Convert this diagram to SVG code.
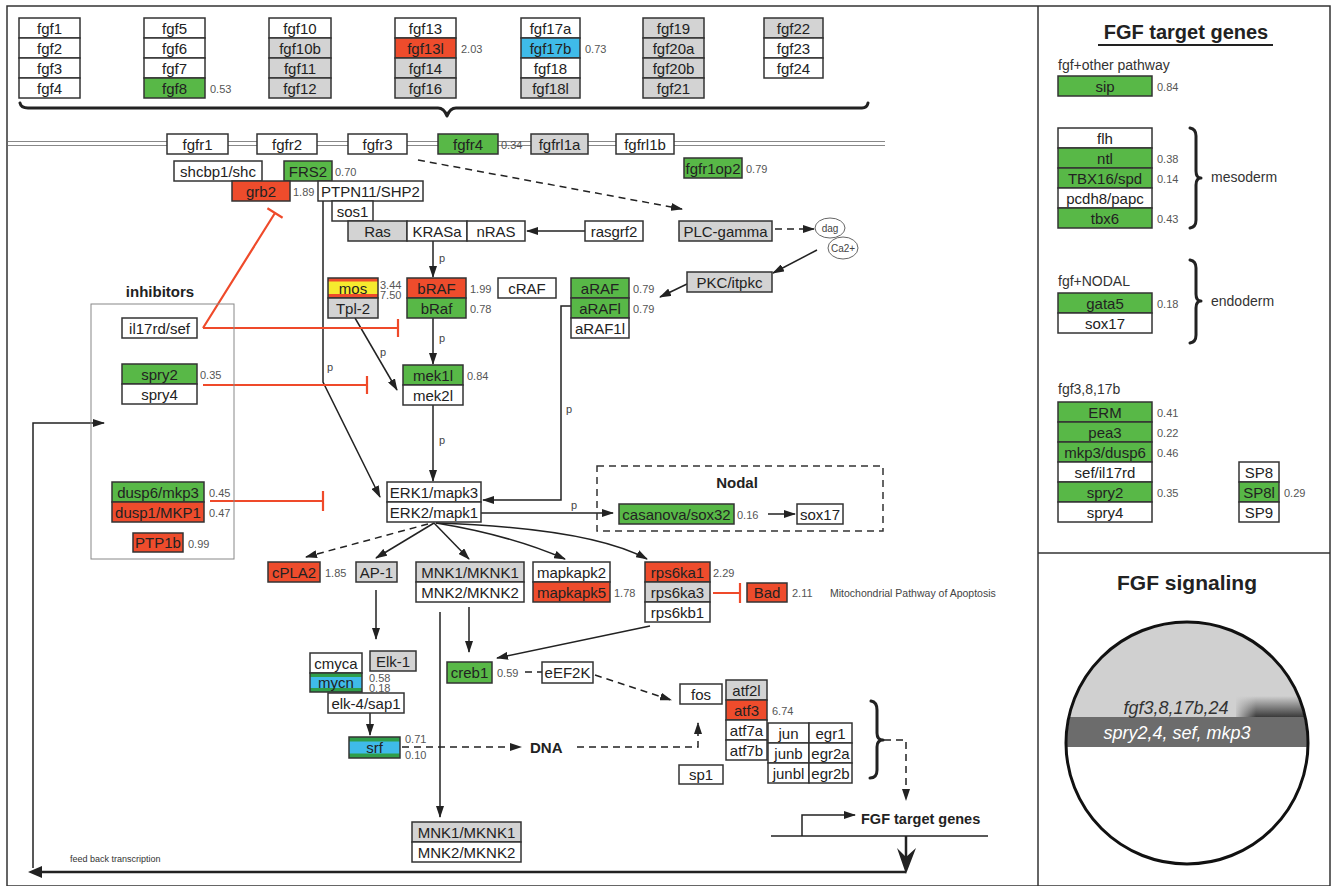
<svg xmlns="http://www.w3.org/2000/svg" width="1334" height="886" viewBox="0 0 1334 886">
<defs>
<style>
text{font-family:"Liberation Sans",Arial,sans-serif}
.bx{stroke:#333;stroke-width:1.5}
.nf{fill:none}
.w{fill:#fff}.g{fill:#d3d3d3}.gr{fill:#58b847}.r{fill:#ee4c2c}.c{fill:#3fbbe9}.y{fill:#f6ea2e}
.t{font-size:15px;fill:#222;text-anchor:middle}
.n{font-size:11px;fill:#555}
.p{font-size:11px;fill:#444}
.ln{fill:none;stroke:#222;stroke-width:1.5}
.ds{stroke-dasharray:7 5}
.inh{fill:none;stroke:#ef4a2a;stroke-width:2.2}
.br{fill:none;stroke:#222;stroke-width:3;stroke-linecap:round;stroke-linejoin:round}
.lbl{font-weight:bold;fill:#222}
.sm{font-size:14px;fill:#333}
</style>
<marker id="ah" viewBox="0 0 12 8" refX="11" refY="4" markerWidth="12" markerHeight="8" markerUnits="userSpaceOnUse" orient="auto"><path d="M0,0 L12,4 L0,8 z" fill="#222"/></marker>
<linearGradient id="gp" x1="0" y1="0" x2="0" y2="1"><stop offset="0" stop-color="#d0d0d0"/><stop offset="1" stop-color="#3a3a3a"/></linearGradient>
<linearGradient id="gf" x1="0" y1="0" x2="1" y2="0"><stop offset="0" stop-color="#d0d0d0" stop-opacity="1"/><stop offset="1" stop-color="#d0d0d0" stop-opacity="0"/></linearGradient>
<clipPath id="cc"><circle cx="1187" cy="743" r="120"/></clipPath>
</defs>

<rect x="0" y="0" width="1334" height="886" fill="#fff"/>
<g id="frame" fill="none" stroke="#333" stroke-width="1.5">
<rect x="7" y="6" width="1323" height="880"/>
<line x1="1038" y1="6" x2="1038" y2="886"/>
<line x1="1038" y1="553" x2="1330" y2="553"/>
</g>

<path class="br" d="M20,103 Q21,108 28,108 L438,108 Q444,108 447,116 Q450,108 456,108 L862,108 Q867,108 868,103"/>

<g id="membrane" stroke="#888" stroke-width="1">
<line x1="8" y1="141.5" x2="885" y2="141.5"/>
<line x1="8" y1="145.5" x2="885" y2="145.5"/>
</g>

<g id="connectors">
<path class="ln ds" d="M418,160 L682,209" marker-end="url(#ah)"/>
<path class="ln" d="M585,231 L527,231" marker-end="url(#ah)"/>
<path class="ln ds" d="M775,229 L814,229" marker-end="url(#ah)"/>
<path class="ln" d="M817,250 L773,273" marker-end="url(#ah)"/>
<path class="ln" d="M687,284 L660,297" marker-end="url(#ah)"/>
<path class="ln" d="M433,241 L433,277" marker-end="url(#ah)"/>
<path class="ln" d="M433,318 L433,364" marker-end="url(#ah)"/>
<path class="ln" d="M433,405 L433,481" marker-end="url(#ah)"/>
<path class="ln" d="M355,318 L397,390" marker-end="url(#ah)"/>
<path class="ln" d="M323,201 L323,382 L380,497" marker-end="url(#ah)"/>
<path class="ln" d="M571,306 L561,306 L561,500 L483,500" marker-end="url(#ah)"/>
<path class="ln" d="M481,513 L613,513" marker-end="url(#ah)"/>
<path class="ln" d="M768,514 L795,514" marker-end="url(#ah)"/>
<path class="ln ds" d="M428,524 L306,557" marker-end="url(#ah)"/>
<path class="ln" d="M434,523 L376,558" marker-end="url(#ah)"/>
<path class="ln" d="M434,523 L469,559" marker-end="url(#ah)"/>
<path class="ln" d="M436,523 Q510,535 565,559" marker-end="url(#ah)"/>
<path class="ln" d="M436,523 Q590,528 647,559" marker-end="url(#ah)"/>
<path class="ln" d="M376,590 L376,639" marker-end="url(#ah)"/>
<path class="ln" d="M469,607 L469,652" marker-end="url(#ah)"/>
<path class="ln" d="M440,612 L440,817" marker-end="url(#ah)"/>
<path class="ln" d="M650,626 L497,658" marker-end="url(#ah)"/>
<path class="ln ds" d="M525,672 L542,672"/>
<path class="ln ds" d="M595,675 L671,700" marker-end="url(#ah)"/>
<path class="ln" d="M370,713 L370,735" marker-end="url(#ah)"/>
<path class="ln ds" d="M402,747 L521,747" marker-end="url(#ah)"/>
<path class="ln ds" d="M577,747 L698,747 L698,723" marker-end="url(#ah)"/>
<path class="ln ds" d="M884,740 L906,740 L906,800" marker-end="url(#ah)"/>
<path class="ln" d="M802,836 L802,815 L855,815" marker-end="url(#ah)"/>
<path fill="none" stroke="#222" stroke-width="1.5" d="M771,836 L988,836"/>
<path fill="none" stroke="#222" stroke-width="2.5" d="M906,836 L906,862"/>
<polygon points="897,848 906,874 916,848 906,857" fill="#222"/>
<path fill="none" stroke="#222" stroke-width="2.5" d="M906,872 L40,872"/>
<polygon points="28,872 42,866 42,878" fill="#222"/>
<path class="ln" d="M33,868 L33,423 L104,423" marker-end="url(#ah)"/>
<path class="inh" d="M203,328 L398,328 M398,319 L398,337"/>
<path class="inh" d="M203,328 L275,213 M267.4,208.2 L282.6,217.8"/>
<path class="inh" d="M203,385 L367,385 M367,376 L367,394"/>
<path class="inh" d="M210,501 L323,501 M323,491 L323,511"/>
<path class="inh" d="M713,593 L740,593 M740,583 L740,603"/>
<path class="br" d="M871,701 Q877,702 877,710 L877,733 Q877,740 883,740 Q877,740 877,747 L877,770 Q877,778 870,778"/>
<path class="br" d="M1190,128 Q1196,129 1196,136 L1196,171 Q1196,178 1201,178 Q1196,178 1196,185 L1196,220 Q1196,227 1190,228"/>
<path class="br" d="M1190,260 Q1196,261 1196,268 L1196,294 Q1196,301 1201,301 Q1196,301 1196,308 L1196,335 Q1196,342 1190,343"/>
</g>

<g id="labels-p">
<text class="p" x="439" y="262">p</text>
<text class="p" x="439" y="342">p</text>
<text class="p" x="439" y="444">p</text>
<text class="p" x="380" y="356">p</text>
<text class="p" x="327" y="371">p</text>
<text class="p" x="566" y="413">p</text>
<text class="p" x="571" y="509">p</text>
</g>

<g id="fgf-col1">
<rect class="bx w" x="19" y="18" width="61" height="20"/><text class="t" x="49.5" y="33.5">fgf1</text>
<rect class="bx w" x="19" y="38" width="61" height="20"/><text class="t" x="49.5" y="53.5">fgf2</text>
<rect class="bx w" x="19" y="58" width="61" height="20"/><text class="t" x="49.5" y="73.5">fgf3</text>
<rect class="bx w" x="19" y="78" width="61" height="20"/><text class="t" x="49.5" y="93.5">fgf4</text>
</g>
<g id="fgf-col2">
<rect class="bx w" x="144" y="18" width="61" height="20"/><text class="t" x="174.5" y="33.5">fgf5</text>
<rect class="bx w" x="144" y="38" width="61" height="20"/><text class="t" x="174.5" y="53.5">fgf6</text>
<rect class="bx w" x="144" y="58" width="61" height="20"/><text class="t" x="174.5" y="73.5">fgf7</text>
<rect class="bx gr" x="144" y="78" width="61" height="20"/><text class="t" x="174.5" y="93.5">fgf8</text>
<text class="n" x="210" y="93">0.53</text>
</g>
<g id="fgf-col3">
<rect class="bx w" x="269" y="18" width="62" height="20"/><text class="t" x="300" y="33.5">fgf10</text>
<rect class="bx g" x="269" y="38" width="62" height="20"/><text class="t" x="300" y="53.5">fgf10b</text>
<rect class="bx g" x="269" y="58" width="62" height="20"/><text class="t" x="300" y="73.5">fgf11</text>
<rect class="bx g" x="269" y="78" width="62" height="20"/><text class="t" x="300" y="93.5">fgf12</text>
</g>
<g id="fgf-col4">
<rect class="bx w" x="395" y="18" width="61" height="20"/><text class="t" x="425.5" y="33.5">fgf13</text>
<rect class="bx r" x="395" y="38" width="61" height="20"/><text class="t" x="425.5" y="53.5">fgf13l</text>
<rect class="bx g" x="395" y="58" width="61" height="20"/><text class="t" x="425.5" y="73.5">fgf14</text>
<rect class="bx g" x="395" y="78" width="61" height="20"/><text class="t" x="425.5" y="93.5">fgf16</text>
<text class="n" x="461" y="53">2.03</text>
</g>
<g id="fgf-col5">
<rect class="bx w" x="521" y="18" width="59" height="20"/><text class="t" x="550.5" y="33.5">fgf17a</text>
<rect class="bx c" x="521" y="38" width="59" height="20"/><text class="t" x="550.5" y="53.5">fgf17b</text>
<rect class="bx w" x="521" y="58" width="59" height="20"/><text class="t" x="550.5" y="73.5">fgf18</text>
<rect class="bx g" x="521" y="78" width="59" height="20"/><text class="t" x="550.5" y="93.5">fgf18l</text>
<text class="n" x="585" y="53">0.73</text>
</g>
<g id="fgf-col6">
<rect class="bx g" x="643" y="18" width="61" height="20"/><text class="t" x="673.5" y="33.5">fgf19</text>
<rect class="bx g" x="643" y="38" width="61" height="20"/><text class="t" x="673.5" y="53.5">fgf20a</text>
<rect class="bx g" x="643" y="58" width="61" height="20"/><text class="t" x="673.5" y="73.5">fgf20b</text>
<rect class="bx g" x="643" y="78" width="61" height="20"/><text class="t" x="673.5" y="93.5">fgf21</text>
</g>
<g id="fgf-col7">
<rect class="bx g" x="764" y="18" width="59" height="20"/><text class="t" x="793.5" y="33.5">fgf22</text>
<rect class="bx w" x="764" y="38" width="59" height="20"/><text class="t" x="793.5" y="53.5">fgf23</text>
<rect class="bx w" x="764" y="58" width="59" height="20"/><text class="t" x="793.5" y="73.5">fgf24</text>
</g>

<g id="fgfr1"><rect class="bx w" x="167" y="134" width="61" height="20"/><text class="t" x="197.5" y="149.5">fgfr1</text></g>
<g id="fgfr2"><rect class="bx w" x="257" y="134" width="60" height="20"/><text class="t" x="287" y="149.5">fgfr2</text></g>
<g id="fgfr3"><rect class="bx w" x="348" y="134" width="59" height="20"/><text class="t" x="377.5" y="149.5">fgfr3</text></g>
<g id="fgfr4"><rect class="bx gr" x="438" y="134" width="60" height="20"/><text class="t" x="468" y="149.5">fgfr4</text><text class="n" x="501" y="149">0.34</text></g>
<g id="fgfrl1a"><rect class="bx g" x="531" y="134" width="57" height="20"/><text class="t" x="559.5" y="149.5">fgfrl1a</text></g>
<g id="fgfrl1b"><rect class="bx w" x="616" y="134" width="58" height="20"/><text class="t" x="645" y="149.5">fgfrl1b</text></g>
<g id="fgfr1op2"><rect class="bx gr" x="684" y="158" width="58" height="20"/><text class="t" x="713" y="173.5">fgfr1op2</text><text class="n" x="746" y="173">0.79</text></g>

<g id="shc"><rect class="bx w" x="174" y="161" width="88" height="20"/><text class="t" x="218" y="176.5">shcbp1/shc</text></g>
<g id="frs2"><rect class="bx gr" x="284" y="161" width="48" height="20"/><text class="t" x="308" y="176.5">FRS2</text><text class="n" x="335" y="176">0.70</text></g>
<g id="grb2"><rect class="bx r" x="232" y="181" width="58" height="20"/><text class="t" x="261" y="196.5">grb2</text><text class="n" x="293" y="196">1.89</text></g>
<g id="ptpn11"><rect class="bx w" x="318" y="181" width="105" height="20"/><text class="t" x="370.5" y="196.5">PTPN11/SHP2</text></g>
<g id="sos1"><rect class="bx w" x="332" y="201" width="41" height="20"/><text class="t" x="352.5" y="216.5">sos1</text></g>
<g id="ras">
<rect class="bx g" x="348" y="221" width="59" height="20"/><text class="t" x="377.5" y="236.5">Ras</text>
<rect class="bx w" x="407" y="221" width="60" height="20"/><text class="t" x="437" y="236.5">KRASa</text>
<rect class="bx w" x="467" y="221" width="58" height="20"/><text class="t" x="496" y="236.5">nRAS</text>
</g>
<g id="rasgrf2"><rect class="bx w" x="585" y="221" width="58" height="20"/><text class="t" x="614" y="236.5">rasgrf2</text></g>
<g id="plcgamma"><rect class="bx g" x="679" y="221" width="93" height="20"/><text class="t" x="725.5" y="236.5">PLC-gamma</text></g>
<g id="dag"><ellipse cx="830" cy="228" rx="15" ry="10" fill="#fff" stroke="#666" stroke-width="1"/><text x="830" y="232" font-size="10" fill="#444" text-anchor="middle">dag</text></g>
<g id="ca2"><ellipse cx="843" cy="248" rx="15" ry="11" fill="#fff" stroke="#666" stroke-width="1"/><text x="843" y="252" font-size="10" fill="#444" text-anchor="middle">Ca2+</text></g>
<g id="pkc"><rect class="bx g" x="687" y="272" width="85" height="20"/><text class="t" x="729.5" y="287.5">PKC/itpkc</text></g>

<g id="mos">
<rect x="328" y="278" width="50" height="20" fill="#ee4c2c"/>
<rect x="328" y="281.5" width="50" height="12.5" fill="#f6ea2e"/>
<rect class="bx nf" x="328" y="278" width="50" height="20"/>
<text class="t" x="353" y="293.5">mos</text>
<rect class="bx g" x="328" y="298" width="50" height="20"/><text class="t" x="353" y="313.5">Tpl-2</text>
<text class="n" x="380" y="289">3.44</text><text class="n" x="380" y="299">7.50</text>
</g>
<g id="braf">
<rect class="bx r" x="407" y="278" width="59" height="20"/><text class="t" x="436.5" y="293.5">bRAF</text>
<rect class="bx gr" x="407" y="298" width="59" height="20"/><text class="t" x="436.5" y="313.5">bRaf</text>
<text class="n" x="470" y="293">1.99</text><text class="n" x="470" y="313">0.78</text>
</g>
<g id="craf"><rect class="bx w" x="498" y="278" width="58" height="20"/><text class="t" x="527" y="293.5">cRAF</text></g>
<g id="araf">
<rect class="bx gr" x="571" y="278" width="58" height="20"/><text class="t" x="600" y="293.5">aRAF</text>
<rect class="bx gr" x="571" y="298" width="58" height="20"/><text class="t" x="600" y="313.5">aRAFl</text>
<rect class="bx w" x="571" y="318" width="58" height="20"/><text class="t" x="600" y="333.5">aRAF1l</text>
<text class="n" x="633" y="293">0.79</text><text class="n" x="633" y="313">0.79</text>
</g>
<g id="mek">
<rect class="bx gr" x="403" y="365" width="60" height="20"/><text class="t" x="433" y="380.5">mek1l</text>
<rect class="bx w" x="403" y="385" width="60" height="20"/><text class="t" x="433" y="400.5">mek2l</text>
<text class="n" x="467" y="380">0.84</text>
</g>
<g id="erk">
<rect class="bx w" x="387" y="482" width="94" height="20"/><text class="t" x="434" y="497.5">ERK1/mapk3</text>
<rect class="bx w" x="387" y="502" width="94" height="20"/><text class="t" x="434" y="517.5">ERK2/mapk1</text>
</g>

<g id="inhibitors">
<rect x="91" y="304" width="143" height="255" fill="none" stroke="#888" stroke-width="1"/>
<text class="lbl" x="160" y="297" font-size="15" text-anchor="middle">inhibitors</text>
</g>
<g id="il17rd"><rect class="bx w" x="122" y="318" width="75" height="20"/><text class="t" x="159.5" y="333.5">il17rd/sef</text></g>
<g id="spry">
<rect class="bx gr" x="122" y="364" width="75" height="20"/><text class="t" x="159.5" y="379.5">spry2</text>
<rect class="bx w" x="122" y="384" width="75" height="20"/><text class="t" x="159.5" y="399.5">spry4</text>
<text class="n" x="200" y="379">0.35</text>
</g>
<g id="dusp">
<rect class="bx gr" x="112" y="482" width="92" height="20"/><text class="t" x="158" y="497.5">dusp6/mkp3</text>
<rect class="bx r" x="112" y="502" width="92" height="20"/><text class="t" x="158" y="517.5">dusp1/MKP1</text>
<text class="n" x="209" y="497">0.45</text><text class="n" x="209" y="517">0.47</text>
</g>
<g id="ptp1b"><rect class="bx r" x="133" y="533" width="50" height="19"/><text class="t" x="158" y="548">PTP1b</text><text class="n" x="188" y="548">0.99</text></g>

<g id="nodal">
<rect x="597" y="466" width="286" height="65" fill="none" stroke="#333" stroke-width="1.5" stroke-dasharray="7 5"/>
<text class="lbl" x="737" y="488" font-size="15" text-anchor="middle">Nodal</text>
</g>
<g id="casanova"><rect class="bx gr" x="619" y="504" width="115" height="20"/><text class="t" x="676.5" y="519.5">casanova/sox32</text><text class="n" x="737" y="519">0.16</text></g>
<g id="sox17n"><rect class="bx w" x="797" y="504" width="46" height="20"/><text class="t" x="820" y="519.5">sox17</text></g>

<g id="cpla2"><rect class="bx r" x="268" y="562" width="52" height="20"/><text class="t" x="294" y="577.5">cPLA2</text><text class="n" x="325" y="577">1.85</text></g>
<g id="ap1"><rect class="bx g" x="356" y="562" width="41" height="20"/><text class="t" x="376.5" y="577.5">AP-1</text></g>
<g id="mnk">
<rect class="bx g" x="416" y="562" width="108" height="20"/><text class="t" x="470" y="577.5">MNK1/MKNK1</text>
<rect class="bx w" x="416" y="582" width="108" height="20"/><text class="t" x="470" y="597.5">MNK2/MKNK2</text>
</g>
<g id="mapkapk">
<rect class="bx w" x="533" y="562" width="77" height="20"/><text class="t" x="571.5" y="577.5">mapkapk2</text>
<rect class="bx r" x="533" y="582" width="77" height="20"/><text class="t" x="571.5" y="597.5">mapkapk5</text>
<text class="n" x="614" y="597">1.78</text>
</g>
<g id="rps6k">
<rect class="bx r" x="645" y="562" width="65" height="20"/><text class="t" x="677.5" y="577.5">rps6ka1</text>
<rect class="bx g" x="645" y="582" width="65" height="20"/><text class="t" x="677.5" y="597.5">rps6ka3</text>
<rect class="bx w" x="645" y="602" width="65" height="20"/><text class="t" x="677.5" y="617.5">rps6kb1</text>
<text class="n" x="713" y="577">2.29</text>
</g>
<g id="bad"><rect class="bx r" x="747" y="583" width="40" height="19"/><text class="t" x="767" y="598">Bad</text><text class="n" x="792" y="597">2.11</text></g>
<text x="830" y="597" font-size="10.5" fill="#444">Mitochondrial Pathway of Apoptosis</text>

<g id="myc">
<rect class="bx w" x="310" y="653" width="52" height="20"/><text class="t" x="336" y="668.5">cmyca</text>
<rect x="310" y="673" width="52" height="19" fill="#2f9e4a"/>
<rect x="310" y="677" width="52" height="11" fill="#3fbbe9"/>
<rect class="bx nf" x="310" y="673" width="52" height="19"/>
<text class="t" x="336" y="688">mycn</text>
<text class="n" x="369" y="682" font-size="10.5">0.58</text><text class="n" x="369" y="692" font-size="10.5">0.18</text>
</g>
<g id="elk1"><rect class="bx g" x="370" y="651" width="46" height="20"/><text class="t" x="393" y="666.5">Elk-1</text></g>
<g id="elk4"><rect class="bx w" x="328" y="693" width="76" height="20"/><text class="t" x="366" y="708.5">elk-4/sap1</text></g>
<g id="srf">
<rect x="349" y="737" width="51" height="21" fill="#2f9e4a"/>
<rect x="349" y="741.5" width="51" height="12" fill="#3fbbe9"/>
<rect class="bx nf" x="349" y="737" width="51" height="21"/>
<text class="t" x="374.5" y="753">srf</text>
<text class="n" x="405" y="743" font-size="10.5">0.71</text><text class="n" x="405" y="759" font-size="10.5">0.10</text>
</g>
<text class="lbl" x="530" y="753" font-size="15">DNA</text>
<g id="creb1"><rect class="bx gr" x="447" y="662" width="45" height="21"/><text class="t" x="469.5" y="677.5">creb1</text><text class="n" x="497" y="677">0.59</text></g>
<g id="eef2k"><rect class="bx w" x="542" y="662" width="51" height="21"/><text class="t" x="567.5" y="677.5">eEF2K</text></g>
<g id="fos"><rect class="bx w" x="680" y="684" width="42" height="20"/><text class="t" x="701" y="699.5">fos</text></g>
<g id="atf">
<rect class="bx g" x="726" y="680" width="41" height="20"/><text class="t" x="746.5" y="695.5">atf2l</text>
<rect class="bx r" x="726" y="700" width="41" height="20"/><text class="t" x="746.5" y="715.5">atf3</text>
<rect class="bx w" x="726" y="720" width="41" height="20"/><text class="t" x="746.5" y="735.5">atf7a</text>
<rect class="bx w" x="726" y="740" width="41" height="20"/><text class="t" x="746.5" y="755.5">atf7b</text>
<text class="n" x="772" y="715">6.74</text>
</g>
<g id="jun">
<rect class="bx w" x="768" y="723" width="41" height="20"/><text class="t" x="788.5" y="738.5">jun</text>
<rect class="bx w" x="768" y="743" width="41" height="20"/><text class="t" x="788.5" y="758.5">junb</text>
<rect class="bx w" x="768" y="763" width="41" height="20"/><text class="t" x="788.5" y="778.5">junbl</text>
</g>
<g id="egr">
<rect class="bx w" x="809" y="723" width="43" height="20"/><text class="t" x="830.5" y="738.5">egr1</text>
<rect class="bx w" x="809" y="743" width="43" height="20"/><text class="t" x="830.5" y="758.5">egr2a</text>
<rect class="bx w" x="809" y="763" width="43" height="20"/><text class="t" x="830.5" y="778.5">egr2b</text>
</g>
<g id="sp1"><rect class="bx w" x="679" y="765" width="44" height="19"/><text class="t" x="701" y="780">sp1</text></g>
<text class="lbl" x="861" y="824" font-size="14.5">FGF target genes</text>
<g id="mnk-bottom">
<rect class="bx g" x="412" y="822" width="109" height="20"/><text class="t" x="466.5" y="837.5">MNK1/MKNK1</text>
<rect class="bx w" x="412" y="842" width="109" height="20"/><text class="t" x="466.5" y="857.5">MNK2/MKNK2</text>
</g>
<text x="70" y="862" font-size="9" fill="#333">feed back transcription</text>

<g id="target-panel">
<text class="lbl" x="1186" y="39" font-size="20" text-anchor="middle">FGF target genes</text>
<line x1="1098" y1="45" x2="1273" y2="45" stroke="#222" stroke-width="2"/>
<text class="sm" x="1058" y="70">fgf+other pathway</text>
<text class="sm" x="1058" y="286">fgf+NODAL</text>
<text class="sm" x="1058" y="394">fgf3,8,17b</text>
<text class="sm" x="1211" y="182">mesoderm</text>
<text class="sm" x="1211" y="306">endoderm</text>
</g>
<g id="sip"><rect class="bx gr" x="1058" y="76" width="94" height="20"/><text class="t" x="1105" y="91.5">sip</text><text class="n" x="1157" y="91">0.84</text></g>
<g id="mesoderm-genes">
<rect class="bx w" x="1058" y="128" width="94" height="20"/><text class="t" x="1105" y="143.5">flh</text>
<rect class="bx gr" x="1058" y="148" width="94" height="20"/><text class="t" x="1105" y="163.5">ntl</text>
<rect class="bx gr" x="1058" y="168" width="94" height="20"/><text class="t" x="1105" y="183.5">TBX16/spd</text>
<rect class="bx w" x="1058" y="188" width="94" height="20"/><text class="t" x="1105" y="203.5">pcdh8/papc</text>
<rect class="bx gr" x="1058" y="208" width="94" height="20"/><text class="t" x="1105" y="223.5">tbx6</text>
<text class="n" x="1157" y="163">0.38</text><text class="n" x="1157" y="183">0.14</text><text class="n" x="1157" y="223">0.43</text>
</g>
<g id="endoderm-genes">
<rect class="bx gr" x="1058" y="293" width="94" height="20"/><text class="t" x="1105" y="308.5">gata5</text>
<rect class="bx w" x="1058" y="313" width="94" height="20"/><text class="t" x="1105" y="328.5">sox17</text>
<text class="n" x="1157" y="308">0.18</text>
</g>
<g id="fgf3817b-genes">
<rect class="bx gr" x="1058" y="402" width="94" height="20"/><text class="t" x="1105" y="417.5">ERM</text>
<rect class="bx gr" x="1058" y="422" width="94" height="20"/><text class="t" x="1105" y="437.5">pea3</text>
<rect class="bx gr" x="1058" y="442" width="94" height="20"/><text class="t" x="1105" y="457.5">mkp3/dusp6</text>
<rect class="bx w" x="1058" y="462" width="94" height="20"/><text class="t" x="1105" y="477.5">sef/il17rd</text>
<rect class="bx gr" x="1058" y="482" width="94" height="20"/><text class="t" x="1105" y="497.5">spry2</text>
<rect class="bx w" x="1058" y="502" width="94" height="20"/><text class="t" x="1105" y="517.5">spry4</text>
<text class="n" x="1157" y="417">0.41</text><text class="n" x="1157" y="437">0.22</text><text class="n" x="1157" y="457">0.46</text><text class="n" x="1157" y="497">0.35</text>
</g>
<g id="sp8">
<rect class="bx w" x="1239" y="462" width="40" height="20"/><text class="t" x="1259" y="477.5">SP8</text>
<rect class="bx gr" x="1239" y="482" width="40" height="20"/><text class="t" x="1259" y="497.5">SP8l</text>
<rect class="bx w" x="1239" y="502" width="40" height="20"/><text class="t" x="1259" y="517.5">SP9</text>
<text class="n" x="1284" y="497">0.29</text>
</g>

<g id="signaling">
<text class="lbl" x="1187" y="590" font-size="21" text-anchor="middle">FGF signaling</text>
<g clip-path="url(#cc)">
<rect x="1060" y="615" width="260" height="102" fill="#d0d0d0"/>
<rect x="1060" y="717" width="260" height="30" fill="#6c6c6c"/>
<rect x="1060" y="747" width="260" height="125" fill="#fff"/>
<rect x="1236" y="696" width="75" height="21" fill="url(#gp)"/>
<rect x="1234" y="696" width="22" height="21" fill="url(#gf)"/>
</g>
<circle cx="1187" cy="743" r="121" fill="none" stroke="#111" stroke-width="3"/>
<text x="1176" y="714" font-size="18" font-style="italic" fill="#333" text-anchor="middle">fgf3,8,17b,24</text>
<text x="1177" y="739" font-size="18" font-style="italic" fill="#fff" text-anchor="middle">spry2,4, sef, mkp3</text>
</g>
</svg>
